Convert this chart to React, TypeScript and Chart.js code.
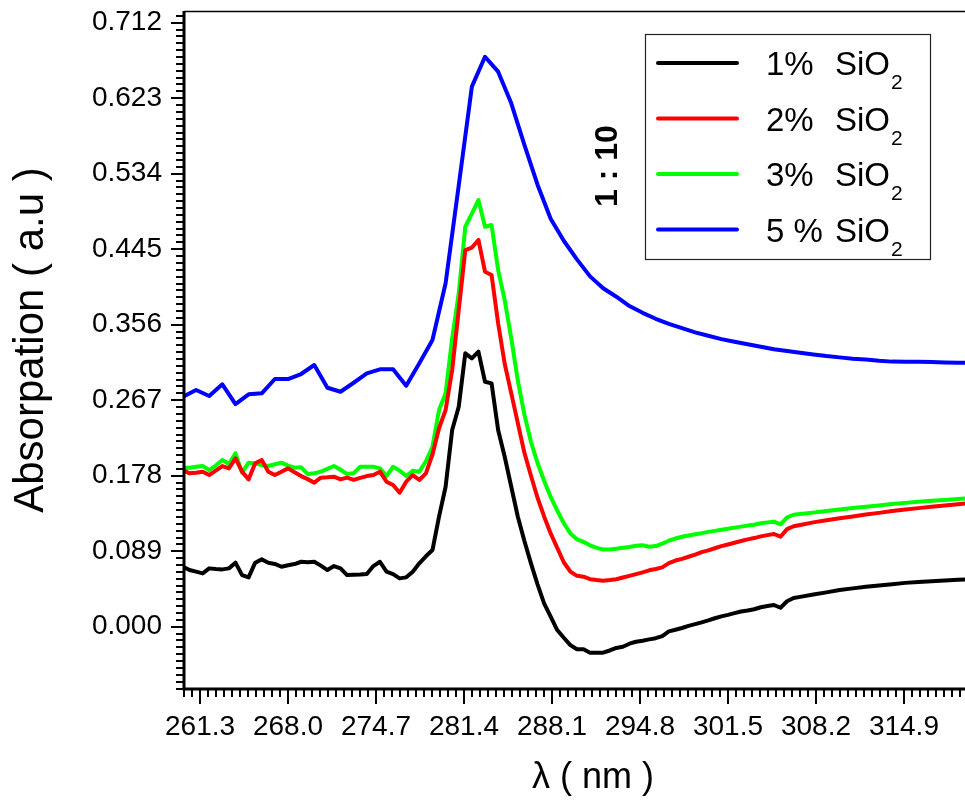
import React, { useEffect, useRef } from 'react';
import { Chart, registerables } from 'chart.js';

Chart.register(...registerables);

// wavelength grid (nm) shared by the 1 %, 2 % and 3 % SiO2 spectra
const WL_FINE = [
  260, 260.5, 261, 261.5, 262, 262.5, 263, 263.5, 264, 264.5,
  265, 265.5, 266, 266.5, 267, 267.5, 268, 268.5, 269, 269.5,
  270, 270.5, 271, 271.5, 272, 272.5, 273, 273.5, 274, 274.5,
  275, 275.5, 276, 276.5, 277, 277.5, 278, 278.5, 279, 279.5,
  280, 280.5, 281, 281.5, 282, 282.5, 283, 283.5, 284, 284.5,
  285, 285.5, 286, 286.5, 287, 287.5, 288, 288.5, 289, 289.5,
  290, 290.5, 291, 291.5, 292, 292.5, 293, 293.5, 294, 294.5,
  295, 295.5, 296, 296.5, 297, 297.5, 298, 298.5, 299, 299.5,
  300, 300.5, 301, 301.5, 302, 302.5, 303, 303.5, 304, 304.5,
  305, 305.5, 306, 306.5, 307,
  308, 309, 310, 311, 312, 313, 314, 315, 316, 317, 318, 319, 320,
];

const ABS_1 = [
  0.0707, 0.0668, 0.0650, 0.0629, 0.0688, 0.0680, 0.0676, 0.0688, 0.0755, 0.0609,
  0.0582, 0.0755, 0.0794, 0.0755, 0.0740, 0.0707, 0.0725, 0.0739, 0.0766, 0.0760,
  0.0766, 0.0720, 0.0668, 0.0715, 0.0688, 0.0609, 0.0612, 0.0615, 0.0621, 0.0715,
  0.0766, 0.0649, 0.0620, 0.0570, 0.0582, 0.0649, 0.0747, 0.0830, 0.0904, 0.1297,
  0.1650, 0.2319, 0.2594, 0.3223, 0.3164, 0.3242, 0.2888, 0.2869, 0.2319, 0.2004,
  0.1650, 0.1297, 0.1010, 0.0747, 0.0500, 0.0276, 0.0120, -0.0039, -0.0130, -0.0216,
  -0.0266, -0.0266, -0.0306, -0.0306, -0.0306, -0.0280, -0.0250, -0.0236, -0.0200, -0.0177,
  -0.0165, -0.0149, -0.0135, -0.0110, -0.0055, -0.0035, -0.0015, 0.0010, 0.0030, 0.0052,
  0.0075, 0.0100, 0.0122, 0.0140, 0.0160, 0.0180, 0.0192, 0.0206, 0.0230, 0.0245,
  0.0256, 0.0224, 0.0300, 0.0338, 0.0352,
  0.0380, 0.0405, 0.0432, 0.0452, 0.0470, 0.0487, 0.0502, 0.0517, 0.0528, 0.0537, 0.0545, 0.0553, 0.0560,
];

const ABS_2 = [
  0.1847, 0.1808, 0.1815, 0.1828, 0.1788, 0.1840, 0.1894, 0.1867, 0.1985, 0.1828,
  0.1737, 0.1926, 0.1965, 0.1828, 0.1788, 0.1828, 0.1867, 0.1820, 0.1776, 0.1740,
  0.1698, 0.1757, 0.1762, 0.1769, 0.1737, 0.1757, 0.1730, 0.1755, 0.1776, 0.1788,
  0.1828, 0.1710, 0.1670, 0.1580, 0.1710, 0.1788, 0.1730, 0.1808, 0.2030, 0.2340,
  0.2555, 0.3026, 0.3733, 0.4440, 0.4470, 0.4559, 0.4185, 0.4146, 0.3577, 0.3100,
  0.2750, 0.2400, 0.2050, 0.1780, 0.1520, 0.1300, 0.1100, 0.0930, 0.0760, 0.0650,
  0.0600, 0.0590, 0.0560, 0.0550, 0.0542, 0.0550, 0.0560, 0.0580, 0.0600, 0.0620,
  0.0640, 0.0665, 0.0680, 0.0700, 0.0750, 0.0780, 0.0800, 0.0825, 0.0850, 0.0880,
  0.0900, 0.0925, 0.0950, 0.0970, 0.0990, 0.1010, 0.1030, 0.1045, 0.1065, 0.1080,
  0.1093, 0.1061, 0.1150, 0.1185, 0.1200,
  0.1230, 0.1255, 0.1278, 0.1300, 0.1322, 0.1342, 0.1363, 0.1381, 0.1398, 0.1413, 0.1428, 0.1445, 0.1458,
];

const ABS_3 = [
  0.1875, 0.1875, 0.1885, 0.1895, 0.1847, 0.1900, 0.1965, 0.1918, 0.2044, 0.1816,
  0.1934, 0.1925, 0.1906, 0.1895, 0.1915, 0.1934, 0.1900, 0.1875, 0.1879, 0.1800,
  0.1810, 0.1828, 0.1860, 0.1895, 0.1850, 0.1800, 0.1810, 0.1886, 0.1886, 0.1886,
  0.1867, 0.1776, 0.1886, 0.1840, 0.1776, 0.1839, 0.1828, 0.1950, 0.2122, 0.2555,
  0.2751, 0.3400, 0.3930, 0.4715, 0.4870, 0.5030, 0.4715, 0.4735, 0.4205, 0.3850,
  0.3400, 0.2900, 0.2500, 0.2180, 0.1930, 0.1720, 0.1530, 0.1370, 0.1220, 0.1100,
  0.1030, 0.1000, 0.0960, 0.0930, 0.0910, 0.0910, 0.0920, 0.0930, 0.0940, 0.0955,
  0.0960, 0.0943, 0.0951, 0.0980, 0.1014, 0.1040, 0.1060, 0.1075, 0.1090, 0.1103,
  0.1118, 0.1130, 0.1143, 0.1155, 0.1168, 0.1180, 0.1192, 0.1202, 0.1220, 0.1230,
  0.1238, 0.1207, 0.1290, 0.1320, 0.1328,
  0.1345, 0.1365, 0.1383, 0.1400, 0.1415, 0.1430, 0.1446, 0.1460, 0.1472, 0.1485, 0.1495, 0.1505, 0.1515,
];

// wavelength grid (nm) of the 5 % SiO2 spectrum
const WL_5 = [
  260, 261, 262, 263, 264, 265, 266, 267, 268, 269,
  270, 271, 272, 273, 274, 275, 276, 277, 278, 279,
  280, 281, 282, 283, 284, 285, 286, 287, 288, 289,
  290, 291, 292, 293, 294, 295, 296, 297, 298, 299,
  300, 301, 302, 303, 304, 305, 306, 307, 308, 309,
  310, 311, 312, 313, 314, 315, 316, 317, 318, 319, 320,
];

const ABS_5 = [
  0.2711, 0.2790, 0.2720, 0.2857, 0.2625, 0.2740, 0.2751, 0.2920, 0.2920, 0.2979,
  0.3085, 0.2817, 0.2770, 0.2876, 0.2987, 0.3034, 0.3034, 0.2841, 0.3105, 0.3380,
  0.4048, 0.5200, 0.6366, 0.6719, 0.6543, 0.6170, 0.5680, 0.5210, 0.4810, 0.4550,
  0.4330, 0.4130, 0.3990, 0.3890, 0.3780, 0.3700, 0.3630, 0.3570, 0.3520, 0.3470,
  0.3430, 0.3390, 0.3360, 0.3330, 0.3300, 0.3270, 0.3250, 0.3230, 0.3210, 0.3190,
  0.3175, 0.3160, 0.3150, 0.3135, 0.3125, 0.3124, 0.3124, 0.3120, 0.3115, 0.3112, 0.3110,
];

const X_TICKS = [261.3, 268.0, 274.7, 281.4, 288.1, 294.8, 301.5, 308.2, 314.9];
const Y_TICKS = [0.0, 0.089, 0.178, 0.267, 0.356, 0.445, 0.534, 0.623, 0.712];
const X_MIN = 260.08;
const X_MAX = 319.55;
const Y_MIN = -0.0734;
const Y_MAX = 0.7258;
const MINOR_PER_MAJOR = 11;

const LEGEND_PCT = ['1%', '2%', '3%', '5 %'];
const LEGEND_COMPOUND = 'SiO';
const LEGEND_SUB = '2';
const COLORS = ['#000000', '#ff0000', '#00ff00', '#0000ff'];
const X_TITLE = 'λ ( nm )';
const Y_TITLE = 'Absorpation ( a.u )';
const RATIO_NOTE = '1 : 10';

const FONT = '"Liberation Sans", Arial, Helvetica, sans-serif';

const originPlugin = {
  id: 'originDecor',
  afterDraw(chart: any) {
    const { ctx, chartArea: a, scales } = chart;
    const xs = scales.x;
    const ys = scales.y;
    ctx.save();
    ctx.strokeStyle = '#000';
    ctx.lineCap = 'butt';

    // top frame line
    ctx.lineWidth = 1.5;
    ctx.beginPath();
    ctx.moveTo(a.left, a.top + 0.5);
    ctx.lineTo(a.right, a.top + 0.5);
    ctx.stroke();

    // axis lines
    ctx.lineWidth = 3;
    ctx.beginPath();
    ctx.moveTo(a.left, a.top);
    ctx.lineTo(a.left, a.bottom + 1.5);
    ctx.moveTo(a.left - 1.5, a.bottom);
    ctx.lineTo(a.right, a.bottom);
    ctx.stroke();

    // y ticks
    ctx.lineWidth = 2;
    const yStep = (Y_TICKS[1] - Y_TICKS[0]) / MINOR_PER_MAJOR;
    const yk0 = Math.ceil((Y_MIN - Y_TICKS[0]) / yStep);
    const yk1 = Math.floor((Y_MAX - Y_TICKS[0]) / yStep);
    ctx.beginPath();
    for (let k = yk0; k <= yk1; k++) {
      const v = Y_TICKS[0] + k * yStep;
      const py = Math.round(ys.getPixelForValue(v));
      const major = k % MINOR_PER_MAJOR === 0;
      const len = major ? 13 : 8;
      ctx.moveTo(a.left, py);
      ctx.lineTo(a.left - len, py);
    }
    ctx.stroke();

    // x ticks
    const xStep = (X_TICKS[1] - X_TICKS[0]) / MINOR_PER_MAJOR;
    const xk0 = Math.ceil((X_MIN - X_TICKS[0]) / xStep);
    const xk1 = Math.floor((X_MAX - X_TICKS[0]) / xStep);
    ctx.beginPath();
    for (let k = xk0; k <= xk1; k++) {
      const v = X_TICKS[0] + k * xStep;
      const px = Math.round(xs.getPixelForValue(v));
      const major = k % MINOR_PER_MAJOR === 0;
      const len = major ? 15 : 8;
      ctx.moveTo(px, a.bottom);
      ctx.lineTo(px, a.bottom + len);
    }
    ctx.stroke();

    // axis titles
    ctx.fillStyle = '#000';
    ctx.textAlign = 'center';
    ctx.textBaseline = 'middle';
    ctx.font = `36px ${FONT}`;
    ctx.fillText(X_TITLE, 593, 778);

    ctx.save();
    ctx.translate(31, 340);
    ctx.rotate(-Math.PI / 2);
    ctx.font = `42px ${FONT}`;
    ctx.fillText(Y_TITLE, 0, 0);
    ctx.restore();

    // ratio note
    ctx.save();
    ctx.translate(608, 166);
    ctx.rotate(-Math.PI / 2);
    ctx.font = `bold 32px ${FONT}`;
    ctx.fillText(RATIO_NOTE, 0, 0);
    ctx.restore();

    // legend
    const box = { x: 645.5, y: 34.5, w: 285, h: 225 };
    ctx.fillStyle = '#fff';
    ctx.fillRect(box.x, box.y, box.w, box.h);
    ctx.lineWidth = 1.2;
    ctx.strokeStyle = '#222';
    ctx.strokeRect(box.x, box.y, box.w, box.h);
    const rowY = [63, 118.5, 174, 229.5];
    for (let i = 0; i < LEGEND_PCT.length; i++) {
      const yy = rowY[i];
      ctx.strokeStyle = COLORS[i];
      ctx.lineWidth = 4;
      ctx.lineCap = 'round';
      ctx.beginPath();
      ctx.moveTo(658, yy);
      ctx.lineTo(737, yy);
      ctx.stroke();
      ctx.fillStyle = '#000';
      ctx.textAlign = 'left';
      ctx.textBaseline = 'alphabetic';
      ctx.font = `33px ${FONT}`;
      ctx.fillText(LEGEND_PCT[i], 766, yy + 12);
      ctx.fillText(LEGEND_COMPOUND, 835, yy + 12);
      const w = ctx.measureText(LEGEND_COMPOUND).width;
      ctx.font = `21px ${FONT}`;
      ctx.fillText(LEGEND_SUB, 835 + w + 1, yy + 26);
    }
    ctx.restore();
  },
};

export default function App() {
  const canvasRef = useRef<HTMLCanvasElement | null>(null);

  useEffect(() => {
    const canvas = canvasRef.current;
    if (!canvas) return;
    const pts = (xs: number[], ys: number[]) => xs.map((x, i) => ({ x, y: ys[i] }));
    const series = [
      { label: '1% SiO2', data: pts(WL_FINE, ABS_1), color: COLORS[0] },
      { label: '2% SiO2', data: pts(WL_FINE, ABS_2), color: COLORS[1] },
      { label: '3% SiO2', data: pts(WL_FINE, ABS_3), color: COLORS[2] },
      { label: '5 % SiO2', data: pts(WL_5, ABS_5), color: COLORS[3] },
    ];
    const chart = new Chart(canvas, {
      type: 'line',
      data: {
        datasets: series.map((s) => ({
          label: s.label,
          data: s.data,
          borderColor: s.color,
          backgroundColor: s.color,
          borderWidth: 4,
          pointRadius: 0,
          tension: 0,
          fill: false,
          borderJoinStyle: 'round',
          borderCapStyle: 'round',
        })),
      },
      options: {
        animation: false,
        responsive: false,
        parsing: false,
        layout: { padding: { top: 11, left: 0, right: 0, bottom: 0 } },
        plugins: { legend: { display: false }, tooltip: { enabled: false }, title: { display: false } },
        scales: {
          x: {
            type: 'linear',
            min: X_MIN,
            max: X_MAX,
            afterBuildTicks: (s: any) => {
              s.ticks = X_TICKS.map((v) => ({ value: v }));
            },
            afterFit: (s: any) => {
              s.height = 122;
              s.paddingLeft = 0;
              s.paddingRight = 0;
            },
            grid: { display: false, drawTicks: false },
            border: { display: false },
            ticks: {
              autoSkip: false,
              maxRotation: 0,
              padding: 21,
              color: '#000',
              font: { size: 28, family: FONT },
              callback: (v: any) => Number(v).toFixed(1),
            },
          },
          y: {
            type: 'linear',
            min: Y_MIN,
            max: Y_MAX,
            afterBuildTicks: (s: any) => {
              s.ticks = Y_TICKS.map((v) => ({ value: v }));
            },
            afterFit: (s: any) => {
              s.width = 184;
              s.paddingTop = 0;
              s.paddingBottom = 0;
            },
            grid: { display: false, drawTicks: false },
            border: { display: false },
            ticks: {
              autoSkip: false,
              padding: 22,
              color: '#000',
              font: { size: 28, family: FONT },
              callback: (v: any) => Number(v).toFixed(3),
            },
          },
        },
      },
      plugins: [originPlugin],
    } as any);
    return () => chart.destroy();
  }, []);

  return (
    <div style={{ position: 'fixed', left: 0, top: 0, width: 965, height: 811, background: '#fff' }}>
      <canvas ref={canvasRef} width={965} height={811} style={{ display: 'block', width: 965, height: 811 }} />
    </div>
  );
}
